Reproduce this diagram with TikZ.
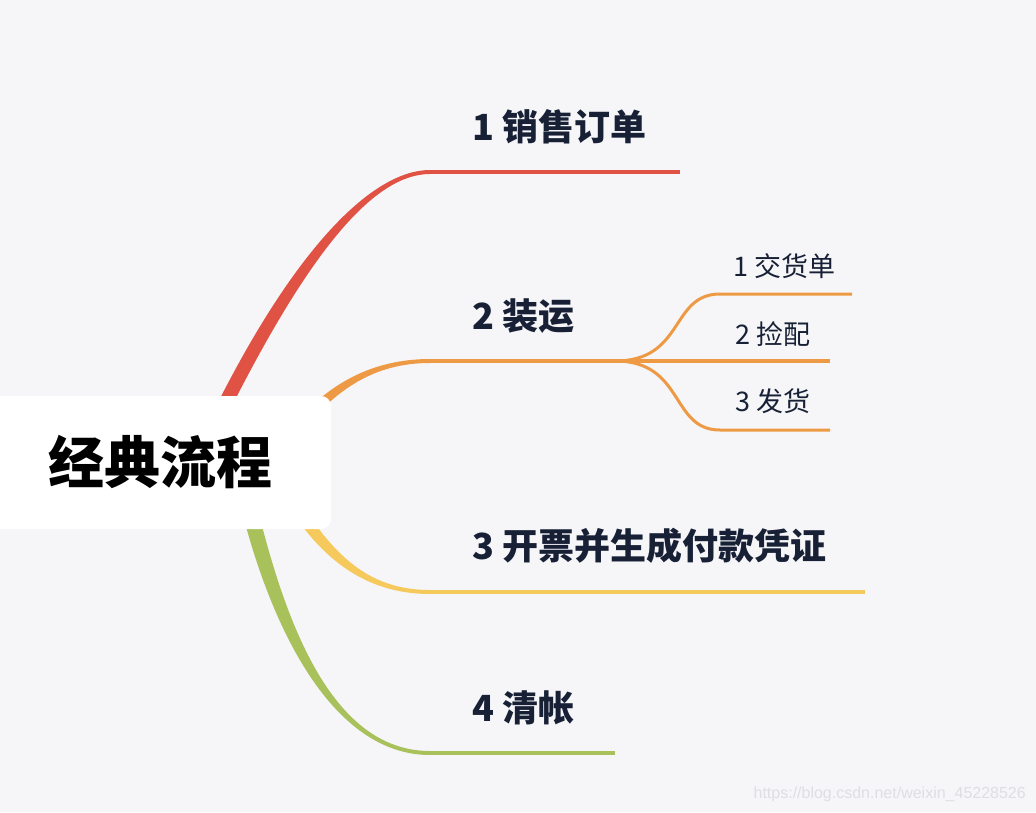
\documentclass[tikz,border=0pt]{standalone}
\usepackage{fontspec}
\newfontfamily\cjk{Noto Sans CJK SC}
\newfontfamily\wm{Liberation Sans}
\usetikzlibrary{calc}
\definecolor{bg}{HTML}{F6F6F9}
\definecolor{ink}{HTML}{172035}
\definecolor{cred}{HTML}{E05243}
\definecolor{corange}{HTML}{EE9A44}
\definecolor{cyellow}{HTML}{F5C95B}
\definecolor{cgreen}{HTML}{A9C15B}
\definecolor{wmgray}{HTML}{DEDEE3}
% tapered branch: colour, four control points, half widths at start and end
\newcommand{\taperbranch}[7]{%
  \coordinate (q0) at #2; \coordinate (q1) at #3;
  \coordinate (q2) at #4; \coordinate (q3) at #5;
  \fill[#1] ($(q0)!#6!90:(q1)$) .. controls ($(q1)!#6!-90:(q0)$) and ($(q2)!#7!90:(q3)$) .. ($(q3)!#7!-90:(q2)$)
    -- ($(q3)!#7!90:(q2)$) .. controls ($(q2)!#7!-90:(q3)$) and ($(q1)!#6!90:(q0)$) .. ($(q0)!#6!-90:(q1)$) -- cycle;}
\begin{document}
\begin{tikzpicture}[x=1pt,y=-1pt,
  mainlabel/.style={anchor=west, inner sep=0pt, text=ink, font=\cjk\bfseries\fontsize{36}{36}\selectfont},
  sublabel/.style={anchor=west, inner sep=0pt, text=ink, font=\cjk\fontsize{27}{27}\selectfont},
  rootbox/.style={fill=white, rounded corners=10pt, minimum width=341pt, minimum height=133pt, inner sep=0pt, font=\cjk\bfseries\fontsize{56}{56}\selectfont, text=black},
  mainline/.style={line width=4pt},
  subline/.style={line width=3pt, draw=corange}]
\useasboundingbox (0,0) rectangle (1036,812);
\begin{scope}
\clip (0,0) rectangle (1036,812);
\fill[bg] (0,0) rectangle (1036,812);

% branch end points
\coordinate (r1) at (430,172); \coordinate (r1e) at (680,172);
\coordinate (o1) at (430,361); \coordinate (split) at (615,361); \coordinate (o1e) at (830,361);
\coordinate (y1) at (430,592); \coordinate (y1e) at (865,592);
\coordinate (g1) at (430,753); \coordinate (g1e) at (615,753);
\coordinate (s1) at (720,294); \coordinate (s1e) at (852,294);
\coordinate (s3) at (720,430); \coordinate (s3e) at (830,430);

% tapered branches from the root
\taperbranch{cred}{(222,410)}{(305,245)}{(375,172)}{(r1)}{7pt}{2pt}
\taperbranch{corange}{(300,425)}{(335,385)}{(375,361)}{(o1)}{5pt}{2pt}
\taperbranch{cyellow}{(295,505)}{(330,560)}{(370,592)}{(y1)}{6pt}{2pt}
\taperbranch{cgreen}{(245,490)}{(275,620)}{(330,753)}{(g1)}{8pt}{2pt}

% underlines
\draw[mainline, cred] (r1) -- (r1e);
\draw[line width=3.5pt, corange] (o1) -- (o1e);
\draw[mainline, cyellow] (y1) -- (y1e);
\draw[mainline, cgreen] (g1) -- (g1e);

% sub branches
\draw[subline] (split) .. controls (685,361) and (670,294) .. (s1) -- (s1e);
\draw[subline] (split) .. controls (685,361) and (670,430) .. (s3) -- (s3e);

% root
\node[rootbox] (root) at (160.5,462.5) {经典流程};

% labels
\node[mainlabel] (t1) at (472,127) {1 销售订单};
\node[mainlabel] (t2) at (472,316) {2 装运};
\node[mainlabel] (t3) at (472,546) {3 开票并生成付款凭证};
\node[mainlabel] (t4) at (472,708) {4 清帐};
\node[sublabel] (u1) at (733,266) {1 交货单};
\node[sublabel] (u2) at (735,334) {2 捡配};
\node[sublabel] (u3) at (735,401) {3 发货};

\node[anchor=east, inner sep=0pt, text=wmgray, font=\wm\fontsize{16}{16}\selectfont] (wmark) at (1026,794) {https://blog.csdn.net/weixin\_45228526};
\end{scope}
\end{tikzpicture}
\end{document}
